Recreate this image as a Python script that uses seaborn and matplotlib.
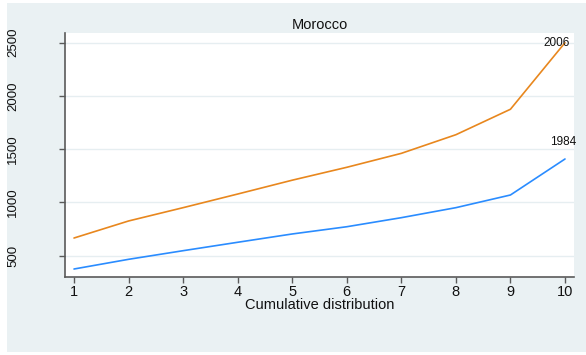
import matplotlib
matplotlib.use("Agg")
import matplotlib.pyplot as plt
import seaborn as sns
import pandas as pd
from matplotlib.patches import Rectangle

# Cumulative distribution deciles and values by survey year
deciles = [1, 2, 3, 4, 5, 6, 7, 8, 9, 10]
values_1984 = [375, 466, 547, 626, 704, 772, 857, 951, 1070, 1408]
values_2006 = [666, 826, 951, 1079, 1209, 1330, 1461, 1636, 1875, 2500]
years = ["1984", "2006"]
y_ticks = [500, 1000, 1500, 2000, 2500]
x_ticks = deciles

colors = {"1984": "#2a8cff", "2006": "#e8871e"}

df = pd.DataFrame({
    "decile": deciles * 2,
    "value": values_1984 + values_2006,
    "year": ["1984"] * len(deciles) + ["2006"] * len(deciles),
})

sns.set_theme(style="white")
plt.rcParams["font.family"] = ["Liberation Sans", "DejaVu Sans"]

fig = plt.figure(figsize=(5.86, 3.55), dpi=100, facecolor="white")
# light panel behind the whole graph
fig.patches.append(Rectangle((7 / 586, 1 - 352 / 355), 579 / 586, 349 / 355,
                             transform=fig.transFigure, facecolor="#eaf1f3",
                             edgecolor="none", zorder=-10))

ax = fig.add_axes([65 / 586, 1 - 277 / 355, 509 / 586, 244 / 355])
ax.set_facecolor("white")
ax.set_zorder(5)

sns.lineplot(data=df, x="decile", y="value", hue="year", palette=colors,
             hue_order=years, linewidth=1.2, legend=False, ax=ax, zorder=3)

ax.set_xlim(0.835, 10.165)
ax.set_ylim(300, 2591)
ax.set_xticks(x_ticks)
ax.set_yticks(y_ticks)
ax.set_yticklabels([str(v) for v in y_ticks], rotation=90, va="center")
ax.yaxis.grid(True, color="#e6eef1", linewidth=1.0)
ax.xaxis.grid(False)

for side in ["top", "right"]:
    ax.spines[side].set_visible(False)
for side in ["left", "bottom"]:
    ax.spines[side].set_color("#5a5a5a")
    ax.spines[side].set_linewidth(1.2)

ax.tick_params(axis="x", length=4, width=1, color="#5a5a5a", pad=2,
               labelsize=10.5, labelcolor="#111111", bottom=True)
ax.tick_params(axis="y", length=4, width=1, color="#5a5a5a", pad=29,
               labelsize=9.5, labelcolor="#111111", left=True)

ax.set_xlabel("Cumulative distribution", fontsize=10.5, labelpad=-1, color="#111111")
ax.set_ylabel("")
ax.set_title("Morocco", fontsize=10.5, pad=3, color="#111111")

# end-of-line year labels
ax.annotate("2006", (deciles[-1], values_2006[-1]), xytext=(-6, 0),
            textcoords="offset points", ha="center", va="center",
            fontsize=8.5, color="#111111")
ax.annotate("1984", (deciles[-1], values_1984[-1]), xytext=(-1, 12),
            textcoords="offset points", ha="center", va="center",
            fontsize=8.5, color="#111111")

fig.savefig("out.png", dpi=100, facecolor=fig.get_facecolor())
